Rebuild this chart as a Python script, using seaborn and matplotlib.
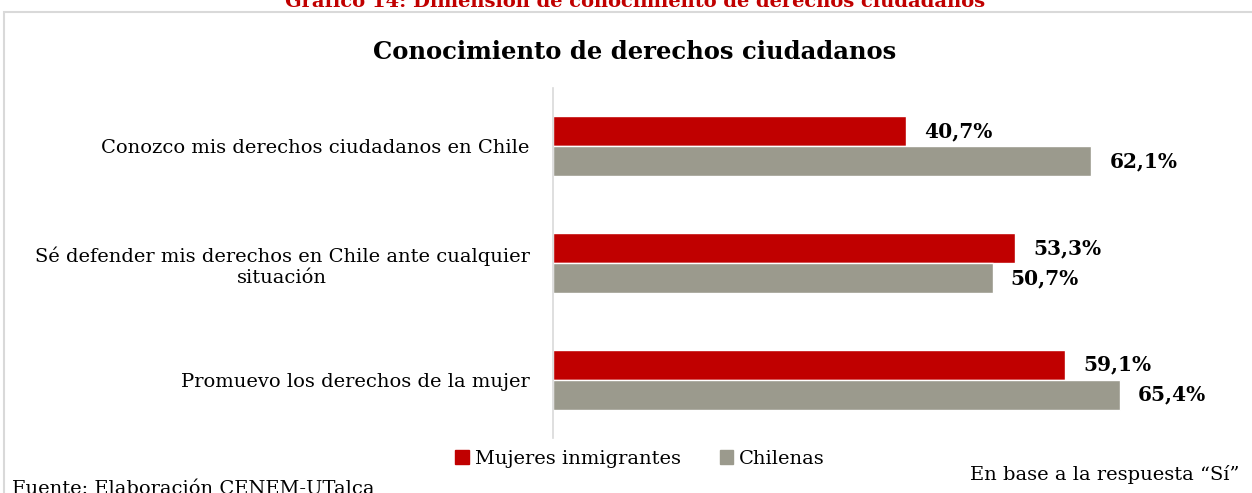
import pandas as pd
import matplotlib.pyplot as plt
import seaborn as sns
from matplotlib.patches import Rectangle

# Data
categories = [
    "Conozco mis derechos ciudadanos en Chile",
    "Sé defender mis derechos en Chile ante cualquier\nsituación",
    "Promuevo los derechos de la mujer",
]
series = ["Mujeres inmigrantes", "Chilenas"]
inmigrantes = [40.7, 53.3, 59.1]
chilenas = [62.1, 50.7, 65.4]
colors = ["#C00000", "#9B9A8D"]

df = pd.DataFrame({
    "categoria": categories * 2,
    "grupo": [series[0]] * 3 + [series[1]] * 3,
    "valor": inmigrantes + chilenas,
})

sns.set_style("white")
plt.rcParams["font.family"] = ["DejaVu Serif"]
plt.rcParams["text.color"] = "black"
plt.rcParams["ytick.color"] = "black"
plt.rcParams["ytick.labelcolor"] = "black"

fig = plt.figure(figsize=(12.52, 4.93), dpi=100)
ax = fig.add_axes([553 / 1252, 1 - 438 / 493, 0.99 - 553 / 1252, 350 / 493])

sns.barplot(data=df, y="categoria", x="valor", hue="grupo", orient="h",
            palette=colors, width=0.515, gap=0, saturation=1, ax=ax,
            legend=False, errorbar=None)

px_per_unit = 8.67
ax.set_xlim(0, (0.99 * 1252 - 553) / px_per_unit)
ax.set_ylim(2.5, -0.5)

# value labels
for cont in ax.containers:
    labels = [f"{v:.1f}%".replace(".", ",") for v in cont.datavalues]
    ax.bar_label(cont, labels=labels, padding=13, fontsize=14.5,
                 fontweight="bold", color="black")

ax.set_xlabel("")
ax.set_ylabel("")
ax.set_xticks([])
ax.tick_params(axis="y", length=0, pad=17, labelsize=14, labelcolor="black")
for lbl in ax.get_yticklabels():
    lbl.set_multialignment("center")
for s in ["top", "right", "bottom"]:
    ax.spines[s].set_visible(False)
ax.spines["left"].set_color("#D9D9D9")
ax.spines["left"].set_linewidth(1.2)

# chart frame
fig.patches.append(Rectangle((4 / 1252, -0.05), 1.05, 1 - 12 / 493 + 0.05,
                             transform=fig.transFigure, fill=False,
                             edgecolor="#D9D9D9", linewidth=1.5))

fig.text(635 / 1252, 1 - 52 / 493, "Conocimiento de derechos ciudadanos",
         ha="center", va="center", fontsize=17.5, fontweight="bold")
fig.text(635 / 1252, 1 - 2 / 493,
         "Gráfico 14: Dimensión de conocimiento de derechos ciudadanos",
         ha="center", va="center", fontsize=14, fontweight="bold", color="#C00000")

# legend
handles = [Rectangle((0, 0), 1, 1, color=c) for c in colors]
fig.legend(handles, series, loc="center", bbox_to_anchor=(640 / 1252, 1 - 459 / 493),
           ncol=2, frameon=False, fontsize=14, handlelength=0.7, handleheight=0.7,
           handletextpad=0.3, columnspacing=2.0)

fig.text(12 / 1252, 1 - 489 / 493, "Fuente: Elaboración CENEM-UTalca",
         ha="left", va="center", fontsize=14)
fig.text(1240 / 1252, 1 - 474 / 493, "En base a la respuesta “Sí”",
         ha="right", va="center", fontsize=14)

fig.savefig("out.png", dpi=100)
